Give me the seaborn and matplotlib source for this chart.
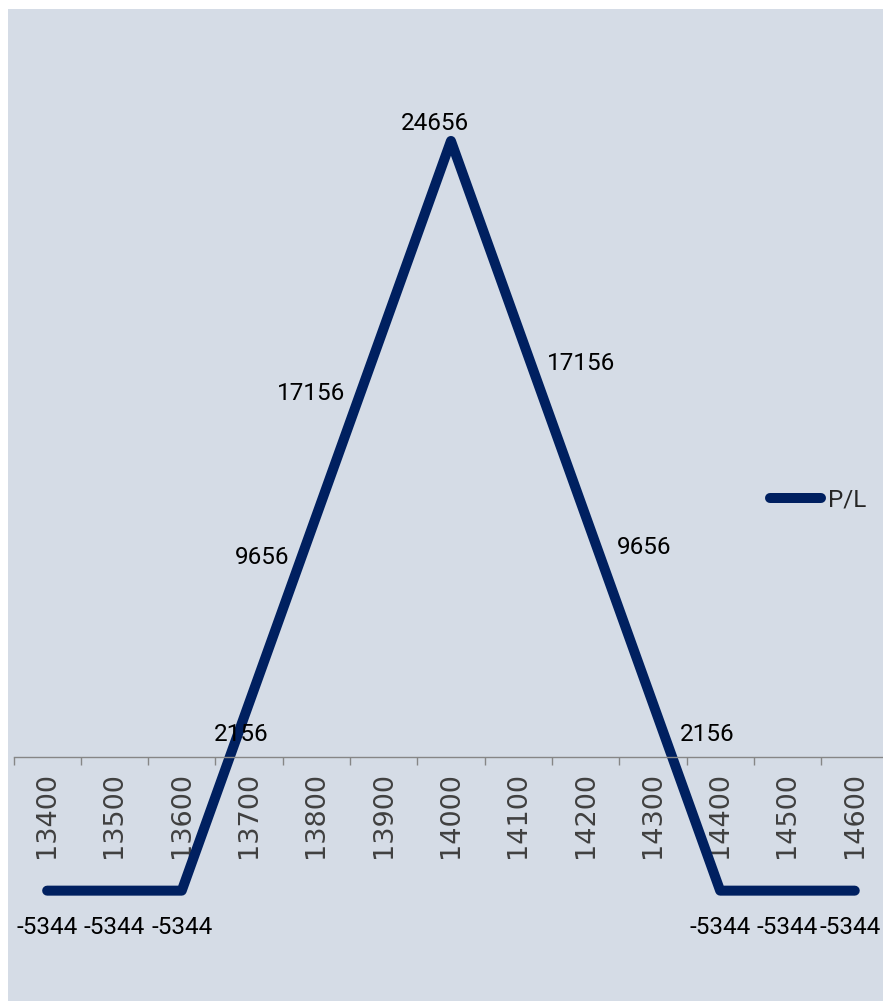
import numpy as np
import pandas as pd
import matplotlib
matplotlib.use("Agg")
import matplotlib.pyplot as plt
from matplotlib.patches import Rectangle
import seaborn as sns

# ---- data ----
strikes = ["13400", "13500", "13600", "13700", "13800", "13900", "14000",
           "14100", "14200", "14300", "14400", "14500", "14600"]
pl_values = [-5344, -5344, -5344, 2156, 9656, 17156, 24656,
             17156, 9656, 2156, -5344, -5344, -5344]
series_name = "P/L"

# label offsets (pixels, right/up positive) - style only
label_offsets = [(0, -37), (0, -37), (0, -37), (-8, -31), (-54, -42), (-73, -65),
                 (-16, 17), (63, -35), (59, -32), (54, -31), (0, -37), (0, -37), (-5, -37)]

sns.set_theme(style="white")
plt.rcParams['font.family'] = ['DejaVu Sans']

W, H, DPI = 883, 1001, 100
fig = plt.figure(figsize=(W / DPI, H / DPI), dpi=DPI, facecolor="white")

BG = "#d5dce6"
fig.patches.append(Rectangle((8 / W, 0), 1 - 8 / W, 1 - 9 / H, transform=fig.transFigure,
                             facecolor=BG, edgecolor="none", zorder=-10))

# axes geometry in pixels
left_px, right_px = 13.5, 888.4
top_px, bot_px = 7.4, 1007.0
ax = fig.add_axes([left_px / W, 1 - bot_px / H, (right_px - left_px) / W, (bot_px - top_px) / H])
ax.set_facecolor("none")
ax.set_zorder(5)

df = pd.DataFrame({"strike": strikes, "pl": pl_values})
LINE = "#002060"
sns.lineplot(data=df, x="strike", y="pl", ax=ax, color=LINE, linewidth=7.2,
             sort=False, label=series_name, solid_capstyle="round", solid_joinstyle="round")

ax.set_xlim(-0.5, len(strikes) - 0.5)
ax.set_ylim(-10000, 30000)
ax.set_xlabel("")
ax.set_ylabel("")

for s in ["top", "right", "left"]:
    ax.spines[s].set_visible(False)
ax.spines["bottom"].set_position(("data", 0))
ax.spines["bottom"].set_color("#868686")
ax.spines["bottom"].set_linewidth(1.0)
ax.yaxis.set_visible(False)

ax.set_xticks(range(len(strikes)))
ax.set_xticklabels(strikes, rotation=90, fontsize=19.5, color="#404040",
                   fontfamily="DejaVu Sans", va="top")
ax.set_xticks(np.arange(-0.5, len(strikes), 1), minor=True)
ax.tick_params(axis="x", which="major", length=0, pad=10.8)
ax.tick_params(axis="x", which="minor", length=6, width=1, color="#868686", direction="out",
               bottom=True)

for i, (v, (dx, dy)) in enumerate(zip(pl_values, label_offsets)):
    ax.annotate(str(v), (i, v), xytext=(dx * 0.72, dy * 0.72), textcoords="offset points",
                ha="center", va="center", fontsize=17.5, fontfamily="Roboto",
                color="black", zorder=5)

leg = ax.legend(loc="center left", bbox_to_anchor=(770 / W, 1 - 500 / H),
                bbox_transform=fig.transFigure, frameon=False,
                prop={"family": "Roboto", "size": 17.5}, handlelength=2.1,
                handletextpad=0.3, borderpad=0, borderaxespad=0)

fig.savefig("out.png", dpi=DPI, facecolor="white")
